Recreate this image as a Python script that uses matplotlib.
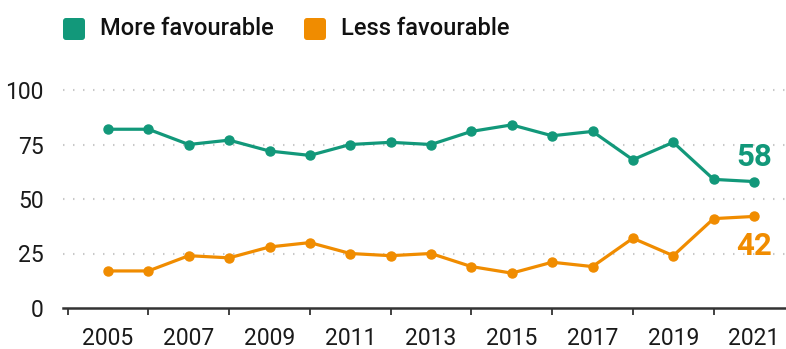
import matplotlib
matplotlib.use("Agg")
import matplotlib.pyplot as plt
from matplotlib.patches import FancyBboxPatch
from matplotlib.ticker import FixedLocator

years = list(range(2005, 2022))
more_favourable = [82, 82, 75, 77, 72, 70, 75, 76, 75, 81, 84, 79, 81, 68, 76, 59, 58]
less_favourable = [17, 17, 24, 23, 28, 30, 25, 24, 25, 19, 16, 21, 19, 32, 24, 41, 42]
series_names = ["More favourable", "Less favourable"]
y_ticks = [0, 25, 50, 75, 100]
x_label_years = list(range(2005, 2022, 2))
x_tick_years = list(range(2004, 2022, 2))

GREEN = "#12987a"
ORANGE = "#f08c00"
TEXT = "#1a1a1a"

plt.rcParams["font.family"] = ["Roboto", "DejaVu Sans"]

W, H = 786, 349
fig = plt.figure(figsize=(W / 100, H / 100), dpi=100)

left_px, right_px, top_px, bottom_px = 63, 786, 80, 308
ax = fig.add_axes([left_px / W, 1 - bottom_px / H,
                   (right_px - left_px) / W, (bottom_px - top_px) / H])

px_per_year = (754 - 108) / 16
ax.set_xlim(2005 - (108 - left_px) / px_per_year,
            2005 + (right_px - 108) / px_per_year)
px_per_unit = (308 - 90) / 100
ax.set_ylim(0, 100 + (90 - top_px) / px_per_unit)

for v in y_ticks[1:]:
    ax.axhline(v, color="#c8c8c8", lw=1.5, ls=(0, (0.7, 4.1)), zorder=1)

ax.plot(years, more_favourable, color=GREEN, lw=2.3, marker="o", ms=6.5,
        zorder=3, clip_on=False)
ax.plot(years, less_favourable, color=ORANGE, lw=2.3, marker="o", ms=6.5,
        zorder=3, clip_on=False)

# end-of-line value labels
ax.annotate(f"{more_favourable[-1]}", (years[-1], more_favourable[-1]),
            xytext=(0, 17.5), textcoords="offset points", ha="center",
            va="center", color=GREEN, fontsize=22.5, fontweight="bold")
ax.annotate(f"{less_favourable[-1]}", (years[-1], less_favourable[-1]),
            xytext=(0, -21), textcoords="offset points", ha="center",
            va="center", color=ORANGE, fontsize=22.5, fontweight="bold")

for s in ["top", "right", "left"]:
    ax.spines[s].set_visible(False)
ax.spines["bottom"].set_color("#333333")
ax.spines["bottom"].set_linewidth(1.8)

ax.set_yticks(y_ticks)
ax.set_yticklabels([str(v) for v in y_ticks])
ax.tick_params(axis="y", length=0, pad=14, labelsize=16.5, labelcolor=TEXT)

ax.set_xticks(x_label_years)
ax.set_xticklabels([str(y) for y in x_label_years])
ax.xaxis.set_minor_locator(FixedLocator(x_tick_years))
ax.tick_params(axis="x", which="major", length=0, pad=13.5, labelsize=16.5,
               labelcolor=TEXT)
ax.tick_params(axis="x", which="minor", length=5, width=1.3, color="#333333",
               direction="out")

# legend drawn in pixel space
def legend_item(x_px, color, label):
    sq = FancyBboxPatch(((x_px) / 100, (H - 40) / 100), 0.22, 0.22,
                        boxstyle="round,pad=0,rounding_size=0.03",
                        transform=fig.dpi_scale_trans, facecolor=color,
                        edgecolor="none")
    fig.patches.append(sq)
    fig.text((x_px + 37) / W, 1 - 28.5 / H, label, ha="left", va="center",
             fontsize=17, fontweight="medium", color="#111111")

legend_item(63, GREEN, series_names[0])
legend_item(304, ORANGE, series_names[1])

fig.savefig("out.png", dpi=100)
